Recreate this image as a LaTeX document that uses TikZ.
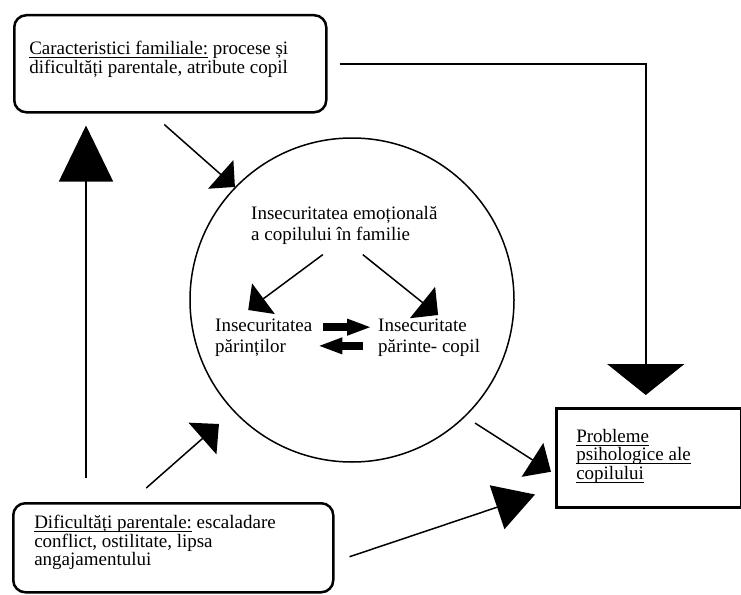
\documentclass[tikz,border=0pt]{standalone}
\usepackage{fontspec}
\setmainfont{Liberation Serif}
\usetikzlibrary{arrows.meta}

% underline at a fixed depth below the baseline
\newsavebox{\ulbox}
\newcommand{\uln}[1]{\leavevmode\sbox{\ulbox}{#1}\rlap{\rule[-3.5pt]{\wd\ulbox}{1pt}}\usebox{\ulbox}}
% text block pinned to the top of a box: height, width, top gap, text
\newcommand{\boxlines}[4]{\parbox[c][#1][t]{#2}{\vspace*{#3}#4}}

\begin{document}
\begin{tikzpicture}[x=1pt, y=-1pt,
    every node/.style={font=\fontsize{19}{18.5}\selectfont},
    roundbox/.style={draw, line width=2.5pt, rounded corners=12pt, inner ysep=0pt},
    sqbox/.style={draw, line width=2.5pt, inner ysep=0pt},
    inner/.style={anchor=north west, align=left, inner sep=0pt, font=\fontsize{19}{21}\selectfont},
    pointer/.style 2 args={-{Triangle[width=#1, length=#2]}, line width=1.5pt},
    fat/.style={-{Triangle[width=15pt, length=25pt]}, line width=8pt}]
    \useasboundingbox (0,0) rectangle (741,594);

    % Boxes
    \node[roundbox, anchor=north west, inner xsep=15pt] (fam) at (13,14)
        {\boxlines{97pt}{282pt}{26pt}{\uln{Caracteristici familiale:} procese și\\
         dificultăți parentale, atribute copil}};
    \node[roundbox, anchor=north west, inner xsep=21pt] (dif) at (12,502)
        {\boxlines{89pt}{278pt}{12pt}{\uln{Dificultăți parentale:} escaladare\\
         conflict, ostilitate, lipsa\\ angajamentului}};
    \node[sqbox, anchor=north west, inner xsep=20pt] (prob) at (555,407)
        {\boxlines{99pt}{145pt}{21pt}{\uln{Probleme}\\ \uln{psihologice ale}\\ \uln{copilului}}};

    % Circle and its contents
    \node[draw, circle, line width=1.5pt, minimum size=324pt, inner sep=0pt] (circ) at (352,300) {};
    \node[inner] (emo) at (251,206) {Insecuritatea emoțională\\ a copilului în familie};
    \node[inner] (parInsec) at (215,318.4) {Insecuritatea\\ părinților};
    \node[inner] (pcInsec) at (378,318.4) {Insecuritate\\ părinte- copil};

    % Arrows between boxes and circle
    \draw[pointer={38pt}{19pt}] ([shift={(-6,11)}]fam.south) -- (circ.136);
    \draw[pointer={54pt}{56pt}] ([shift={(74,-24)}]dif.north west) -- ([shift={(73,12)}]fam.south west);
    \draw[pointer={42pt}{22pt}] ([shift={(-27,-14)}]dif.north) -- ([shift={(-14,13)}]circ.223);
    \draw[pointer={40pt}{22pt}] ([shift={(8,8)}]circ.315) -- ([shift={(-4,14)}]prob.west);
    \draw[pointer={46pt}{40pt}] ([shift={(15,9)}]dif.east) -- ([shift={(-20,-14)}]prob.south west);
    \draw[pointer={77pt}{31pt}, line width=2pt] ([shift={(12,0)}]fam.east) -| ([shift={(-3,-12)}]prob.north);

    % Arrows inside the circle
    \draw[pointer={38pt}{19pt}] ([shift={(-21.5,10)}]emo.south) -- ([shift={(-15.5,-8.4)}]parInsec.north);
    \draw[pointer={40pt}{20pt}] ([shift={(18.5,10)}]emo.south) -- ([shift={(9,-3.4)}]pcInsec.north);
    \draw[fat] ([shift={(11,-10.25)}]parInsec.east) -- ([shift={(-6,-10.25)}]pcInsec.west);
    \draw[fat] ([shift={(-15,8.45)}]pcInsec.west) -- ([shift={(5,8.45)}]parInsec.east);
\end{tikzpicture}
\end{document}
